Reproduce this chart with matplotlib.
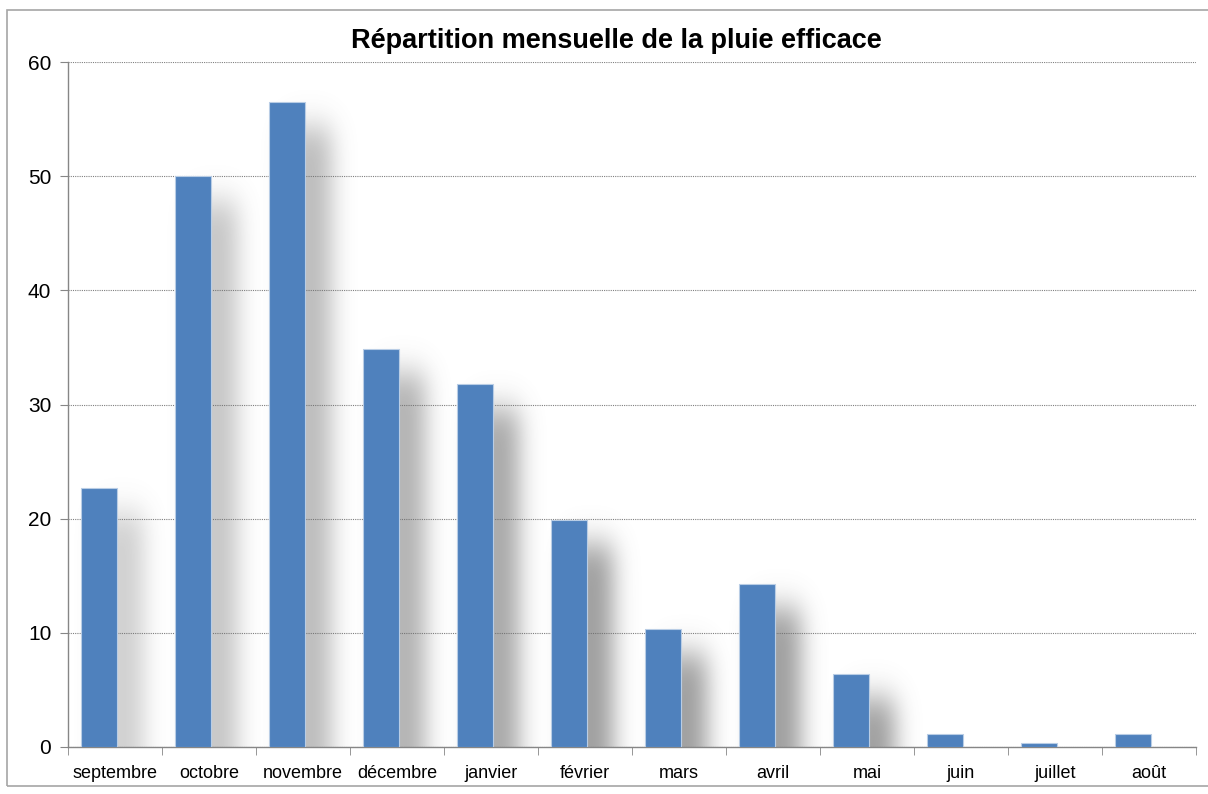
import matplotlib.pyplot as plt
import numpy as np
import math
from matplotlib.patches import Rectangle

plt.rcParams['font.family'] = ['Liberation Sans', 'DejaVu Sans']

mois = ['septembre', 'octobre', 'novembre', 'décembre', 'janvier', 'février',
        'mars', 'avril', 'mai', 'juin', 'juillet', 'août']
pluie = [22.7, 50.0, 56.5, 34.9, 31.8, 19.9, 10.3, 14.3, 6.4, 1.1, 0.35, 1.1]
yticks = [0, 10, 20, 30, 40, 50, 60]

fig = plt.figure(figsize=(12.08, 7.94), dpi=100)
ax = fig.add_axes([0.0563, 0.0592, 0.9337, 0.8627])

x = np.arange(len(mois))
w = 0.38
pos = x - 0.17

# soft shadow behind the bars, blurred rectangles drawn as an image
erf = np.frompyfunc(math.erf, 1, 1)
gx = np.linspace(-0.5, len(mois) - 0.5, 1200)
gy = np.linspace(0, 60, 700)
X, Y = np.meshgrid(gx, gy)
alpha = np.zeros_like(X)
sx, sy = 0.12, 1.4
for i, (p, v) in enumerate(zip(pos, pluie)):
    top = v - 2.2
    if top <= 0:
        continue
    x0, x1 = p, p + w / 2 + 0.28
    fx = 0.5 * (erf((X - x0) / (sx * 1.414)).astype(float) -
                erf((X - x1) / (sx * 1.414)).astype(float))
    fy = 0.5 * (1 - erf((Y - top) / (sy * 1.414)).astype(float))
    strength = 0.32 + 0.34 * min(1.0, i / 5)
    alpha = np.maximum(alpha, fx * fy * strength)
img = np.zeros(alpha.shape + (4,))
img[..., :3] = 0.42
img[..., 3] = alpha
ax.imshow(img, extent=(-0.5, len(mois) - 0.5, 0, 60), origin='lower',
          aspect='auto', zorder=1, interpolation='bilinear')

ax.bar(pos, pluie, width=w, color='#4f81bd', edgecolor='#b9cde5', linewidth=0.8, zorder=3)

ax.set_xlim(-0.5, len(mois) - 0.5)
ax.set_ylim(0, 60)
ax.set_yticks(yticks)
ax.set_yticklabels([str(v) for v in yticks], fontsize=15)
ax.set_xticks(x)
ax.set_xticklabels(mois, fontsize=13)
ax.set_xticks(np.arange(len(mois) + 1) - 0.5, minor=True)
ax.tick_params(axis='x', which='major', length=0, pad=13)
ax.tick_params(axis='x', which='minor', length=6, color='#868686', direction='out')
ax.tick_params(axis='y', length=6, color='#868686', pad=6)
ax.yaxis.grid(True, linestyle=(0, (1, 1)), color='#808080', linewidth=0.8, zorder=0)
ax.set_axisbelow(True)
for s in ['top', 'right']:
    ax.spines[s].set_visible(False)
for s in ['left', 'bottom']:
    ax.spines[s].set_color('#868686')
    ax.spines[s].set_linewidth(1.0)

fig.text(0.5105, 0.948, 'Répartition mensuelle de la pluie efficace', ha='center', va='center',
         fontsize=19.5, fontweight='bold')

fig.patches.append(Rectangle((0.0058, 0.01), 1.2, 0.977, transform=fig.transFigure,
                             fill=False, edgecolor='#a6a6a6', linewidth=1.2))

fig.savefig('out.png', dpi=100, facecolor='white')
